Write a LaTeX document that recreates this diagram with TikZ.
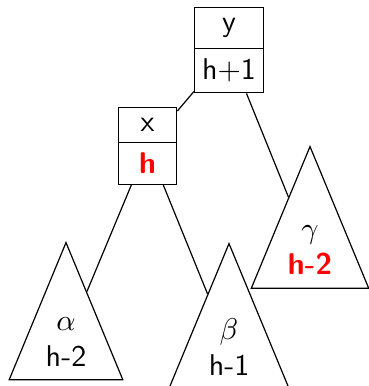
\documentclass[tikz,border=0pt]{standalone}
\usetikzlibrary{shapes.multipart, shapes.geometric}
\definecolor{cRed}{RGB}{255,0,0}

\begin{document}
\begin{tikzpicture}[x=0.3333pt, y=-0.3333pt,
      keybox/.style={draw, rectangle split, rectangle split parts=2,
                     font=\sffamily, inner xsep=2.5pt, anchor=north},
      subtree/.style={draw, isosceles triangle, shape border rotate=90,
                      isosceles triangle apex angle=45, anchor=apex,
                      align=center, font=\sffamily, inner xsep=1.7pt, inner ysep=4.5pt}
    ]
    \useasboundingbox (0,0) rectangle (368,386);

    \node[keybox] (y) at (229,7) {y \nodepart{two} h+1};
    \node[keybox, minimum width=19.5pt] (x) at (147.5,107.3)
        {x \nodepart{two} \textcolor{cRed}{\bfseries h}};

    % subtrees
    \node[subtree] (alpha) at (66,241) {$\alpha$\\h-2};
    \node[subtree] (beta) at (229,242) {$\beta$\\h-1};
    \node[subtree] (gamma) at (310,145) {$\gamma$\\\textcolor{cRed}{\bfseries h-2}};

    \draw (y) -- (x);
    \draw (y) -- (gamma);
    \draw (x) -- (alpha);
    \draw (x) -- (beta);
  \end{tikzpicture}
\end{document}
